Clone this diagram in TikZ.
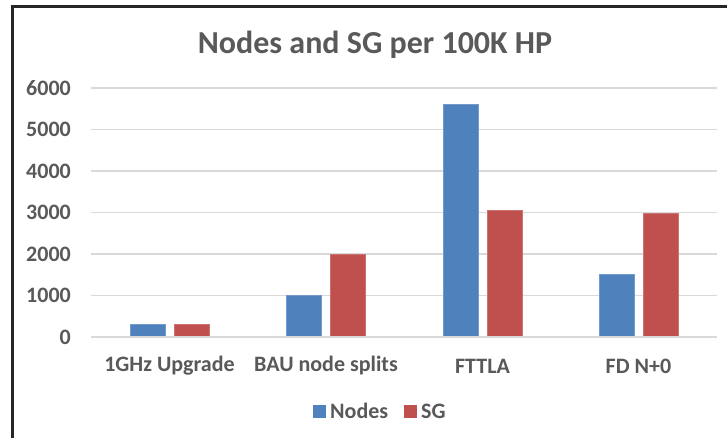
\documentclass[tikz,border=0pt]{standalone}
\usepackage{fontspec}
\setmainfont{Carlito}
\begin{document}
\begin{tikzpicture}[x=1pt,y=-1pt,
  txt/.style={text=labelgray,font=\bfseries,inner sep=0pt},
  ticklab/.style={txt,font=\bfseries\fontsize{22}{22}\selectfont,anchor=east},
  catlab/.style={txt,font=\bfseries\fontsize{22}{22}\selectfont,anchor=center},
  leglab/.style={txt,font=\bfseries\fontsize{22}{22}\selectfont,anchor=west},
  gridline/.style={draw=gridgray,line width=1.3pt},
  nodesbar/.style={fill=barblue,draw=barblue!80!white,line width=0.6pt},
  sgbar/.style={fill=barred,draw=barred!80!white,line width=0.6pt}]
\definecolor{labelgray}{HTML}{595959}
\definecolor{gridgray}{HTML}{D9D9D9}
\definecolor{barblue}{HTML}{4F81BD}
\definecolor{barred}{HTML}{C0504D}
\definecolor{framegray}{HTML}{262626}
\useasboundingbox (0,0) rectangle (727,437);
\fill[white] (0,0) rectangle (727,437);
% chart frame
\draw[framegray,line width=2.2pt] (12.5,440) -- (12.5,6.5) -- (730,6.5);
% title
\node[txt,font=\bfseries\fontsize{32}{32}\selectfont] (title) at (375,45) {Nodes and SG per 100K HP};
% gridlines and tick labels (41.5 px per 1000)
\foreach \v/\yy in {0/337,1000/295.5,2000/254,3000/212.5,4000/171,5000/129.5,6000/88}{
  \draw[gridline] (91,\yy) -- (717,\yy);
  \node[ticklab] (tick\v) at (71,\yy) {\v};
}
% bars: value v -> top at 337 - 0.0415 v
\newcommand{\nbar}[3]{\fill[#1] (#2,337) rectangle (#2+35,{337-0.0415*#3});}
\nbar{nodesbar}{130}{300}
\nbar{sgbar}{174}{300}
\nbar{nodesbar}{286.5}{1000}
\nbar{sgbar}{330.5}{2000}
\nbar{nodesbar}{443}{5600}
\nbar{sgbar}{487}{3060}
\nbar{nodesbar}{599.5}{1500}
\nbar{sgbar}{643.5}{2990}
\draw[gridline] (91,337) -- (717,337);
% category labels
\node[catlab] (c1) at (169.5,366) {1GHz Upgrade};
\node[catlab] (c2) at (326,366) {BAU node splits};
\node[catlab] (c3) at (482.5,366) {FTTLA};
\node[catlab] (c4) at (638.5,366) {FD N+0};
% legend
\fill[barblue] (313,405) rectangle (325.5,418);
\node[leglab] (lnodes) at (330,411) {Nodes};
\fill[barred] (404,405) rectangle (416.5,418);
\node[leglab] (lsg) at (421,411) {SG};
\end{tikzpicture}
\end{document}
